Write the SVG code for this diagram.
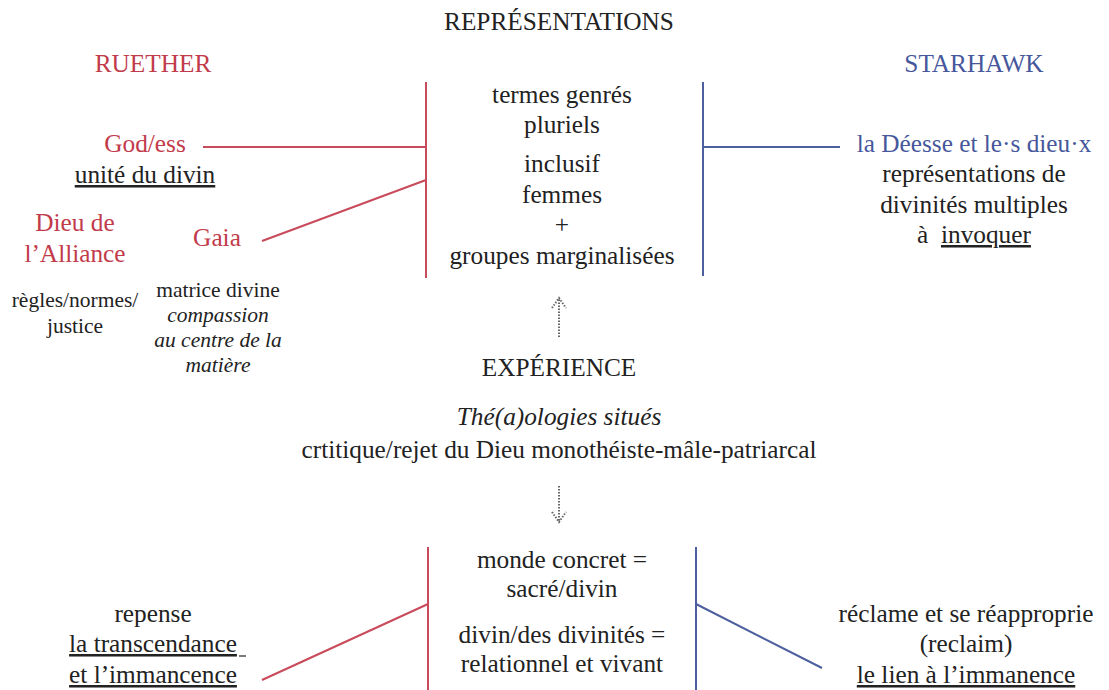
<svg xmlns="http://www.w3.org/2000/svg" width="1109" height="690" viewBox="0 0 1109 690" font-family="Liberation Serif, DejaVu Serif, serif">
  <style>
    text { font-family: 'Liberation Serif', 'DejaVu Serif', serif; font-size: 25.3px; fill: #222; text-anchor: middle; }
    .red { fill: #c23b4b; }
    .blue { fill: #46579b; }
    .sm { font-size: 21.5px; }
    .it { font-style: italic; }
    .u { text-decoration: underline; }
    .lr { stroke: #c94a5a; stroke-width: 2; fill: none; }
    .lb { stroke: #4d5f9e; stroke-width: 2; fill: none; }
    .dot { stroke: #666; stroke-width: 2; stroke-dasharray: 1.5 1.5; fill: none; }
  </style>
  <rect width="1109" height="690" fill="#fff"/>

  <g id="connectors">
    <line class="lr" x1="426" y1="82" x2="426" y2="278"/>
    <line class="lr" x1="203" y1="147" x2="426" y2="147"/>
    <line class="lr" x1="262" y1="241" x2="426" y2="180"/>
    <line class="lb" x1="703" y1="82" x2="703" y2="276"/>
    <line class="lb" x1="703" y1="147" x2="840" y2="147"/>
    <line class="lr" x1="428" y1="547" x2="428" y2="690"/>
    <line class="lr" x1="262" y1="680" x2="428" y2="604"/>
    <line class="lb" x1="696" y1="547" x2="696" y2="690"/>
    <line class="lb" x1="696" y1="604" x2="822" y2="668"/>
    <!-- dotted arrows between experience and representations -->
    <path class="dot" d="M559 337 L559 298 M552 308 L559 298 L566 308"/>
    <path class="dot" d="M559 486 L559 522 M552 512 L559 522 L566 512"/>
  </g>

  <g id="representations">
    <text x="559" y="30">REPRÉSENTATIONS</text>
  </g>
  <g id="ruether">
    <text class="red" x="153" y="72">RUETHER</text>
  </g>
  <g id="starhawk">
    <text class="blue" x="974" y="72">STARHAWK</text>
  </g>

  <g id="godess">
    <text class="red" x="145" y="152">God/ess</text>
    <text class="u" x="145" y="183">unité du divin</text>
  </g>
  <g id="dieu-alliance">
    <text class="red" x="75" y="231">Dieu de</text>
    <text class="red" x="75" y="262">l’Alliance</text>
    <text class="sm" x="75" y="307">règles/normes/</text>
    <text class="sm" x="75" y="333">justice</text>
  </g>
  <g id="gaia">
    <text class="red" x="217" y="246">Gaia</text>
    <text class="sm" x="218" y="297">matrice divine</text>
    <text class="sm it" x="218" y="322">compassion</text>
    <text class="sm it" x="218" y="347">au centre de la</text>
    <text class="sm it" x="218" y="372">matière</text>
  </g>

  <g id="center-top">
    <text x="562" y="103">termes genrés</text>
    <text x="562" y="133">pluriels</text>
    <text x="562" y="172">inclusif</text>
    <text x="562" y="203">femmes</text>
    <text x="562" y="233">+</text>
    <text x="562" y="264">groupes marginalisées</text>
  </g>

  <g id="deesse">
    <text class="blue" x="974" y="152">la Déesse et le·s dieu·x</text>
    <text x="974" y="182">représentations de</text>
    <text x="974" y="213">divinités multiples</text>
    <text x="974" y="243" xml:space="preserve">à  <tspan class="u">invoquer</tspan></text>
  </g>

  <g id="experience">
    <text x="559" y="376">EXPÉRIENCE</text>
    <text class="it" x="559" y="425">Thé(a)ologies situés</text>
    <text x="559" y="458">crtitique/rejet du Dieu monothéiste-mâle-patriarcal</text>
  </g>

  <g id="center-bottom">
    <text x="562" y="568">monde concret =</text>
    <text x="562" y="597">sacré/divin</text>
    <text x="562" y="643">divin/des divinités =</text>
    <text x="562" y="672">relationnel et vivant</text>
  </g>

  <g id="repense">
    <text x="153" y="622">repense</text>
    <text class="u" x="153" y="652">la transcendance</text>
    <line x1="239" y1="656" x2="246" y2="656" stroke="#222" stroke-width="1.2"/>
    <text class="u" x="153" y="683">et l’immancence</text>
  </g>

  <g id="reclame">
    <text x="966" y="622">réclame et se réapproprie</text>
    <text x="966" y="652">(reclaim)</text>
    <text class="u" x="966" y="683">le lien à l’immanence</text>
  </g>
</svg>
